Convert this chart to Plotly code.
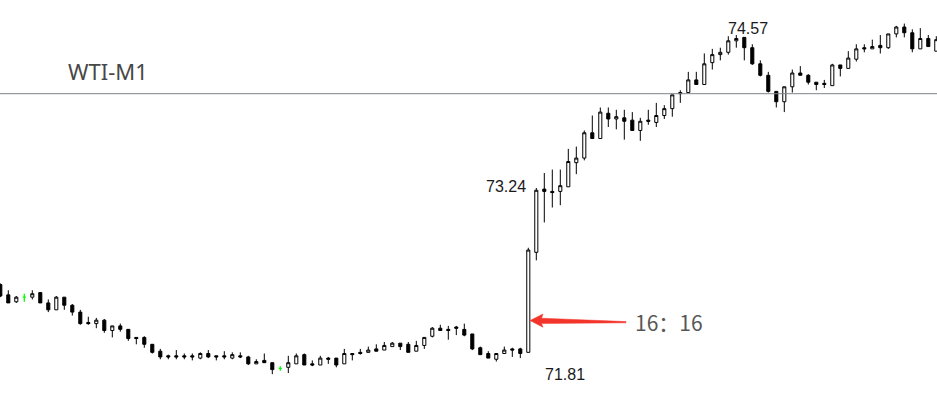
import plotly.graph_objects as go

# ---------------- data ----------------
open_ = [72.40, 72.31, 72.25, 72.29, 72.29, 72.33, 72.24, 72.18, 72.29, 72.22,
         72.16, 72.07, 72.06, 72.09, 72.00, 72.04, 72.01, 71.94, 71.94, 71.88,
         71.82, 71.78, 71.78, 71.78, 71.78, 71.76, 71.80, 71.78, 71.78, 71.76,
         71.78, 71.77, 71.71, 71.74, 71.72, 71.67, 71.68, 71.71, 71.79, 71.71,
         71.70, 71.76, 71.76, 71.71, 71.80, 71.81, 71.81, 71.84, 71.83, 71.86,
         71.89, 71.88, 71.82, 71.87, 71.95, 72.02, 72.01, 72.03, 72.01, 71.97,
         71.85, 71.80, 71.75, 71.80, 71.84, 71.84, 71.81, 72.68, 73.23, 73.21,
         73.21, 73.25, 73.46, 73.50, 73.72, 73.67, 73.89, 73.84, 73.85, 73.83,
         73.74, 73.83, 73.81, 73.87, 73.93, 74.07, 74.07, 74.18, 74.14, 74.33,
         74.40, 74.42, 74.52, 74.55, 74.46, 74.32, 74.22, 74.08, 73.99, 74.12,
         74.24, 74.22, 74.16, 74.15, 74.13, 74.31, 74.28, 74.36, 74.46, 74.45,
         74.48, 74.46, 74.58, 74.64, 74.59, 74.45, 74.54, 74.43]

high = [72.41, 72.35, 72.30, 72.32, 72.35, 72.33, 72.27, 72.30, 72.29, 72.23,
        72.18, 72.12, 72.11, 72.10, 72.04, 72.06, 72.01, 71.94, 71.95, 71.88,
        71.84, 71.79, 71.83, 71.80, 71.80, 71.81, 71.83, 71.78, 71.82, 71.81,
        71.81, 71.78, 71.75, 71.80, 71.72, 71.69, 71.78, 71.80, 71.80, 71.74,
        71.78, 71.77, 71.76, 71.84, 71.80, 71.84, 71.86, 71.88, 71.90, 71.90,
        71.89, 71.90, 71.91, 71.94, 72.03, 72.05, 72.04, 72.04, 72.06, 71.97,
        71.86, 71.82, 71.80, 71.86, 71.85, 71.85, 72.72, 73.24, 73.37, 73.40,
        73.40, 73.58, 73.60, 73.74, 73.87, 73.94, 73.94, 73.92, 73.92, 73.90,
        73.85, 73.92, 73.98, 73.96, 74.05, 74.09, 74.25, 74.25, 74.41, 74.45,
        74.46, 74.56, 74.57, 74.55, 74.49, 74.35, 74.25, 74.08, 74.12, 74.27,
        74.30, 74.23, 74.16, 74.18, 74.32, 74.31, 74.43, 74.49, 74.49, 74.53,
        74.57, 74.58, 74.65, 74.67, 74.62, 74.63, 74.57, 74.56]

low = [72.29, 72.24, 72.24, 72.25, 72.27, 72.24, 72.16, 72.18, 72.18, 72.13,
       72.05, 72.05, 72.02, 71.98, 71.94, 71.99, 71.91, 71.88, 71.85, 71.80,
       71.75, 71.75, 71.75, 71.75, 71.74, 71.75, 71.76, 71.74, 71.75, 71.75,
       71.76, 71.70, 71.71, 71.72, 71.62, 71.65, 71.63, 71.71, 71.70, 71.69,
       71.70, 71.71, 71.68, 71.71, 71.74, 71.79, 71.81, 71.82, 71.83, 71.86,
       71.83, 71.81, 71.82, 71.84, 71.94, 72.00, 71.92, 71.96, 71.95, 71.83,
       71.79, 71.76, 71.73, 71.80, 71.77, 71.76, 71.81, 72.61, 72.94, 73.07,
       73.09, 73.25, 73.36, 73.48, 73.67, 73.67, 73.77, 73.75, 73.66, 73.74,
       73.65, 73.79, 73.77, 73.84, 73.86, 73.98, 74.07, 74.14, 74.14, 74.27,
       74.35, 74.40, 74.46, 74.35, 74.31, 74.21, 74.07, 73.94, 73.90, 74.07,
       74.22, 74.14, 74.09, 74.11, 74.13, 74.21, 74.28, 74.34, 74.42, 74.45,
       74.41, 74.45, 74.55, 74.55, 74.42, 74.45, 74.47, 74.43]

close = [72.30, 72.24, 72.29, 72.29, 72.32, 72.24, 72.18, 72.29, 72.22, 72.16,
         72.06, 72.06, 72.09, 72.00, 72.04, 72.01, 71.93, 71.93, 71.88, 71.81,
         71.77, 71.77, 71.77, 71.77, 71.77, 71.80, 71.77, 71.77, 71.77, 71.79,
         71.77, 71.71, 71.73, 71.72, 71.66, 71.67, 71.72, 71.78, 71.70, 71.70,
         71.76, 71.75, 71.70, 71.80, 71.79, 71.80, 71.83, 71.82, 71.87, 71.89,
         71.86, 71.81, 71.87, 71.94, 72.02, 72.00, 72.00, 72.02, 71.96, 71.84,
         71.79, 71.76, 71.80, 71.83, 71.83, 71.80, 72.70, 73.22, 73.21, 73.20,
         73.26, 73.47, 73.50, 73.72, 73.67, 73.90, 73.84, 73.86, 73.82, 73.74,
         73.82, 73.82, 73.87, 73.93, 74.05, 74.06, 74.18, 74.14, 74.32, 74.40,
         74.42, 74.52, 74.54, 74.46, 74.32, 74.22, 74.08, 73.99, 74.12, 74.24,
         74.22, 74.16, 74.14, 74.14, 74.31, 74.28, 74.37, 74.45, 74.45, 74.47,
         74.46, 74.58, 74.64, 74.59, 74.45, 74.54, 74.47, 74.53]

bar_index = list(range(len(open_)))
ref_level = 74.06          # horizontal line
symbol_label = "WTI-M1"
time_label = "16：16"
label_high_bar = 67        # "73.24"
label_low_bar = 66         # "71.81"
label_peak_bar = 92        # "74.57"

W, H = 937, 408

# split normal candles and exact dojis (drawn in lime like MT4)
nd = [i for i in bar_index if open_[i] != close[i]]
dj = [i for i in bar_index if open_[i] == close[i]]

def pick(arr, idx):
    return [arr[i] for i in idx]

fig = go.Figure()
fig.add_trace(go.Candlestick(
    x=pick(bar_index, nd), open=pick(open_, nd), high=pick(high, nd),
    low=pick(low, nd), close=pick(close, nd),
    increasing=dict(line=dict(color="#000000", width=1), fillcolor="#ffffff"),
    decreasing=dict(line=dict(color="#000000", width=1), fillcolor="#000000"),
    hoverinfo="skip", showlegend=False,
))
fig.add_trace(go.Candlestick(
    x=pick(bar_index, dj), open=pick(open_, dj), high=pick(high, dj),
    low=pick(low, dj), close=pick(close, dj),
    increasing=dict(line=dict(color="#00ff00", width=1.3), fillcolor="#00ff00"),
    decreasing=dict(line=dict(color="#00ff00", width=1.3), fillcolor="#00ff00"),
    hoverinfo="skip", showlegend=False,
))

# horizontal reference line
fig.add_shape(type="line", xref="paper", x0=0, x1=1, yref="y",
              y0=ref_level, y1=ref_level,
              line=dict(color="#7d848c", width=1))

# red tapered arrow (decoration, pixel geometry)
def P(xp, yp):
    return f"{xp / W:.5f},{1 - yp / H:.5f}"

pts = [(530, 320.5), (543, 314.0), (541.5, 318.2), (626, 321.6),
       (626, 322.8), (541.5, 323.6), (543, 327.2)]
path = "M " + " L ".join(P(*p) for p in pts) + " Z"
fig.add_shape(type="path", xref="paper", yref="paper", path=path,
              fillcolor="#f2342a", line=dict(color="#f2342a", width=0.5))

num_font = dict(family="Liberation Sans, Arial, sans-serif", size=16, color="#1a1a1a")

annotations = [
    dict(text=symbol_label, xref="paper", yref="paper", x=66 / W, y=1 - 71 / H,
         xanchor="left", yanchor="middle", showarrow=False,
         font=dict(family="Noto Sans, Open Sans, sans-serif", size=22, color="#474747")),
    dict(text=time_label, xref="paper", yref="paper", x=633 / W, y=1 - 321.5 / H,
         xanchor="left", yanchor="middle", showarrow=False,
         font=dict(family="Noto Sans CJK SC, Noto Sans, sans-serif", size=21, color="#575757")),
    dict(text=f"{high[label_high_bar]:.2f}", x=label_high_bar, y=high[label_high_bar],
         xref="x", yref="y", xanchor="right", yanchor="middle", xshift=-8, yshift=1,
         showarrow=False, font=num_font),
    dict(text=f"{low[label_low_bar]:.2f}", x=label_low_bar, y=low[label_low_bar],
         xref="x", yref="y", xanchor="left", yanchor="middle", xshift=15, yshift=-22,
         showarrow=False, font=num_font),
    dict(text=f"{high[label_peak_bar]:.2f}", x=label_peak_bar, y=high[label_peak_bar],
         xref="x", yref="y", xanchor="center", yanchor="middle", xshift=12, yshift=7,
         showarrow=False, font=num_font),
]

px_per_bar = 8.0
x0 = -0.3 / px_per_bar
y_top, y_bot = 74.875, 74.875 - H / 114.96

fig.update_layout(
    width=W, height=H,
    margin=dict(l=0, r=0, t=0, b=0),
    paper_bgcolor="#ffffff", plot_bgcolor="#ffffff",
    showlegend=False, boxgap=0.45,
    xaxis=dict(range=[x0, x0 + W / px_per_bar], visible=False,
               rangeslider=dict(visible=False), fixedrange=True),
    yaxis=dict(range=[y_bot, y_top], visible=False, fixedrange=True),
    annotations=annotations,
)

fig.write_html("out.html")
